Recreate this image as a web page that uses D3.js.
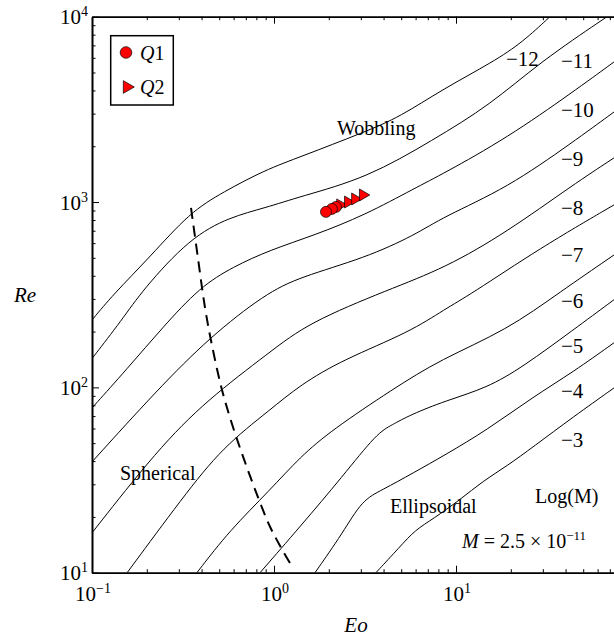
<!DOCTYPE html>
<html>
<head>
<meta charset="utf-8">
<script src="https://cdn.jsdelivr.net/npm/d3@7"></script>
<style>
  body { margin: 0; background: #fff; }
  svg { display: block; font-family: 'Liberation Serif', 'Times New Roman', serif; }
</style>
</head>
<body>
<div id="app"></div>
<script>
// contour lines of log10(M), [Eo, Re] pairs
const mM12 = [[0.1,231],[0.130,315],[0.208,505],[0.345,880],[0.524,1130],[0.893,1490],[1.39,1750],[3.16,2390],[4.92,2880],[8.49,4075],[16.0,5700],[23.3,7310],[32.8,10000]]
const mM11 = [[0.1,143],[0.146,231],[0.190,336],[0.345,640],[0.573,831],[0.893,929],[1.39,1070],[3.25,1349],[7.48,2163],[15.4,3340],[29.0,5700],[67.6,10000]]
const mM10 = [[0.1,77.4],[0.156,126],[0.246,212],[0.392,348],[0.595,447],[0.951,551],[1.68,664],[3.16,851],[5.96,1190],[8.49,1420],[19.1,2220],[44.0,3930],[73.8,5700]]
const mM9 = [[0.1,39.6],[0.228,96.8],[0.445,187],[0.893,319],[1.39,394],[3.16,499],[5.96,664],[8.49,831],[19.1,1190],[44.0,2110],[73.8,3060]]
const mM8 = [[0.1,16.4],[0.228,45.9],[0.428,85.5],[0.951,155],[1.54,223],[4.23,336],[8.71,441],[19.1,690],[44.0,1240],[73.8,1730]]
const mM7 = [[0.156,10],[0.316,25.6],[0.524,47.7],[0.951,75.5],[1.39,103],[2.39,141],[5.59,199],[8.71,265],[11.9,315],[29.0,565],[73.8,965]]
const mM6 = [[0.377,10],[0.573,17.0],[0.951,27.9],[1.39,42.1],[2.08,58.9],[4.51,98.0],[8.17,141],[19.1,204],[37.3,327],[73.8,518]]
const mM5 = [[0.838,10],[1.39,17.7],[2.39,33.2],[3.68,56.7],[4.45,62.7],[5.59,71.0],[8.71,84.5],[14.8,99.3],[23.3,129],[44.0,204],[73.8,297]]
const mM4 = [[1.68,10],[2.39,16.4],[3.05,24.7],[3.92,27.9],[5.81,34.5],[8.71,43.2],[14.8,58.9],[26.5,88.8],[44.0,121],[73.8,174]]
const mM3 = [[3.63,10],[4.92,13.8],[5.96,17.0],[7.48,19.5],[10.5,24.7],[14.1,31.3],[19.1,37.7],[26.5,47.7],[44.0,69.2],[73.8,99.3]]
const contours = [mM12, mM11, mM10, mM9, mM8, mM7, mM6, mM5, mM4, mM3]
const logM = ['−12', '−11', '−10', '−9', '−8', '−7', '−6', '−5', '−4', '−3']

// spherical / wobbling boundary (dashed)
const boundary = [[0.350,929],[0.382,499],[0.418,268],[0.456,169],[0.518,96.8],[0.595,61.1],[0.693,39.5],[0.816,25.6],[0.951,17.7],[1.11,13.3],[1.27,10.6]]

// measured bubbles
const q1 = [[1.93,885],[2.08,918],[2.19,941]]
const q2 = [[2.31,965],[2.55,1000],[2.79,1039],[3.08,1092]]

const majorX = [0.1, 1, 10, 100]
const majorY = [10, 100, 1000, 10000]
const expX = ['−1', '0', '1']
const expY = ['1', '2', '3', '4']

const W = 614, H = 638
const svg = d3.select('#app').append('svg').attr('width', W).attr('height', H)

const x = d3.scaleLog().domain([0.1, 100]).range([92, 638])
const y = d3.scaleLog().domain([10, 10000]).range([572.7, 16.7])

svg.append('clipPath').attr('id', 'plot')
  .append('rect')
  .attr('x', 92).attr('y', 16.7)
  .attr('width', 546).attr('height', 556)

const line = d3.line()
  .x(function (d) { return x(d[0]) })
  .y(function (d) { return y(d[1]) })
  .curve(d3.curveBasis)

const g = svg.append('g').attr('clip-path', 'url(#plot)')

g.selectAll('path.contour')
  .data(contours)
  .enter()
  .append('path')
  .attr('class', 'contour')
  .attr('d', line)
  .attr('fill', 'none')
  .attr('stroke', '#000')
  .attr('stroke-width', 1)

g.append('path')
  .datum(boundary)
  .attr('d', line.curve(d3.curveCatmullRom))
  .attr('fill', 'none')
  .attr('stroke', '#000')
  .attr('stroke-width', 2)
  .attr('stroke-dasharray', '11,7')

// axes, ticks pointing inwards
const minor = function (scale, majors) {
  return scale.ticks().filter(function (v) {
    return !majors.some(function (m) { return Math.abs(m - v) / m < 1e-6 })
  })
}
const axisStyle = function (sel) {
  sel.select('.domain').attr('stroke-width', 1.6)
  sel.selectAll('.tick line').attr('stroke-width', 1)
  sel.selectAll('.tick text').remove()
}
const drawAxis = function (axisFn, scale, majors, transform) {
  svg.append('g').attr('transform', transform)
    .call(axisFn(scale).tickValues(minor(scale, majors)).tickSizeInner(-3.5).tickSizeOuter(0))
    .call(axisStyle)
  svg.append('g').attr('transform', transform)
    .call(axisFn(scale).tickValues(majors).tickSizeInner(-7).tickSizeOuter(0))
    .call(axisStyle)
}
drawAxis(d3.axisBottom, x, majorX, 'translate(0,' + y(10) + ')')
drawAxis(d3.axisTop, x, majorX, 'translate(0,' + y(10000) + ')')
drawAxis(d3.axisLeft, y, majorY, 'translate(' + x(0.1) + ',0)')
drawAxis(d3.axisRight, y, majorY, 'translate(' + x(100) + ',0)')

const powLabel = function (px, py, exp, anchor) {
  const t = svg.append('text')
    .attr('x', px).attr('y', py)
    .attr('text-anchor', anchor)
    .attr('font-size', 21)
  t.append('tspan').text('10')
  t.append('tspan').attr('dy', -8).attr('font-size', 14).text(exp)
}
// the 10^2 label falls outside the cropped figure
expX.forEach(function (e, i) { powLabel(x(majorX[i]) + 1, 601, e, 'middle') })
majorY.forEach(function (v, i) { powLabel(88, y(v) + 7.5, expY[i], 'end') })

// axis titles
svg.append('text').attr('x', 25).attr('y', 302)
  .attr('text-anchor', 'middle').attr('font-size', 21).attr('font-style', 'italic').text('Re')
svg.append('text').attr('x', 356).attr('y', 632)
  .attr('text-anchor', 'middle').attr('font-size', 21).attr('font-style', 'italic').text('Eo')

// bubble markers
const tri = d3.symbol().type(d3.symbolTriangle).size(62)
svg.selectAll('path.q2')
  .data(q2)
  .enter()
  .append('path')
  .attr('class', 'q2')
  .attr('d', tri)
  .attr('transform', function (d) { return 'translate(' + x(d[0]) + ',' + y(d[1]) + ') rotate(90)' })
  .attr('fill', '#f00')
  .attr('stroke', '#000')
  .attr('stroke-width', 0.7)
svg.selectAll('circle.q1')
  .data(q1.slice().reverse())
  .enter()
  .append('circle')
  .attr('class', 'q1')
  .attr('cx', function (d) { return x(d[0]) })
  .attr('cy', function (d) { return y(d[1]) })
  .attr('r', 5.5)
  .attr('fill', '#f00')
  .attr('stroke', '#000')
  .attr('stroke-width', 0.7)

// contour labels
const labelY = [66, 68, 117, 166, 215, 262, 308, 353, 398, 447]
logM.forEach(function (s, i) {
  svg.append('text')
    .attr('x', i === 0 ? 506 : 561)
    .attr('y', labelY[i])
    .attr('font-size', 21)
    .text(s)
})

// regime labels
const note = function (px, py, s) {
  return svg.append('text').attr('x', px).attr('y', py).attr('font-size', 20).text(s)
}
note(337, 135, 'Wobbling')
note(120, 480, 'Spherical')
note(390, 513, 'Ellipsoidal')
note(535, 503, 'Log(M)')
const mt = note(462, 548, '')
mt.append('tspan').attr('font-style', 'italic').text('M')
mt.append('tspan').text(' = 2.5 × 10')
mt.append('tspan').attr('dy', -8).attr('font-size', 13).text('−11')

// legend
svg.append('rect')
  .attr('x', 110.7).attr('y', 35.7)
  .attr('width', 62.6).attr('height', 69.3)
  .attr('fill', '#fff').attr('stroke', '#000').attr('stroke-width', 1.5)
svg.append('circle')
  .attr('cx', 126).attr('cy', 52.5).attr('r', 5.8)
  .attr('fill', '#f00').attr('stroke', '#000').attr('stroke-width', 0.7)
svg.append('path')
  .attr('d', d3.symbol().type(d3.symbolTriangle).size(70)())
  .attr('transform', 'translate(127,87) rotate(90)')
  .attr('fill', '#f00').attr('stroke', '#000').attr('stroke-width', 0.7)
const legendText = function (py, n) {
  const t = svg.append('text').attr('x', 140).attr('y', py).attr('font-size', 20)
  t.append('tspan').attr('font-style', 'italic').text('Q')
  t.append('tspan').text(n)
}
legendText(60, '1')
legendText(94, '2')
</script>
</body>
</html>
